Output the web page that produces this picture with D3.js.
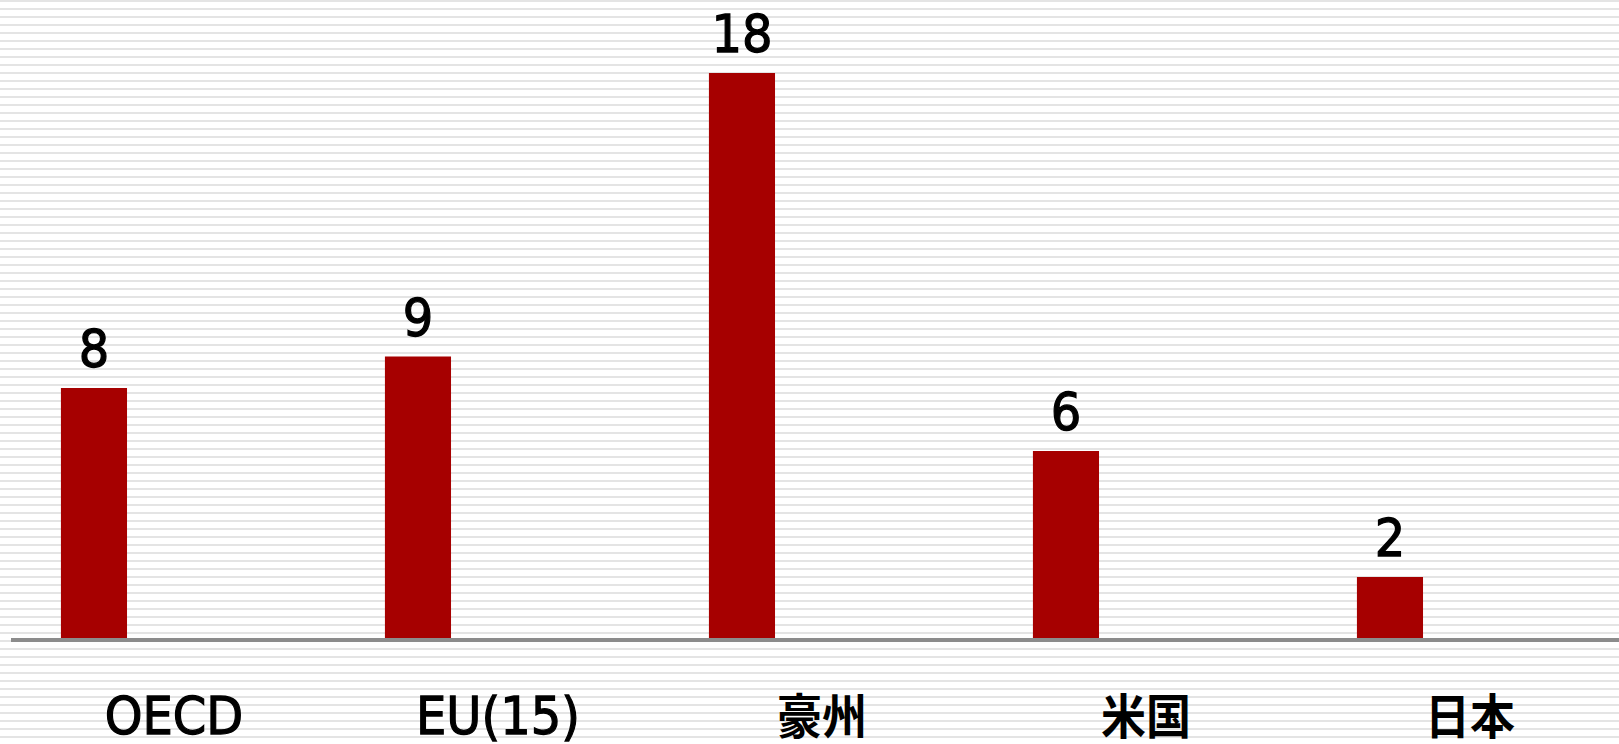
<!DOCTYPE html>
<html>
<head>
<meta charset="utf-8">
<script src="https://cdn.jsdelivr.net/npm/d3@7"></script>
<style>
  html, body { margin: 0; padding: 0; background: #fff; }
  svg { display: block; }
</style>
</head>
<body>
<svg id="chart" width="1619" height="744"></svg>
<script>
const categories = ["OECD", "EU(15)", "豪州", "米国", "日本"];
const values = [8, 9, 18, 6, 2];
const yDomain = [0, 20];

const W = 1619, H = 744;
const svg = d3.select("#chart");

// striped background
const defs = svg.append("defs");
const pat = defs.append("pattern")
  .attr("id", "stripes").attr("patternUnits", "userSpaceOnUse")
  .attr("width", 8).attr("height", 8);
pat.append("rect").attr("width", 8).attr("height", 8).attr("fill", "#ffffff");
pat.append("rect").attr("x", 0).attr("y", 0).attr("width", 8).attr("height", 2).attr("fill", "#e4e4e4");
svg.append("rect").attr("width", W).attr("height", H).attr("fill", "url(#stripes)");

const x = d3.scaleBand().domain(categories).range([12, 12 + 324 * 5]).padding(0);
const y = d3.scaleLinear().domain(yDomain).range([640, 10]);
const step = x.step();
const barOff = step * 0.151, barW = step * 0.204;

// bars
svg.append("g").selectAll("rect").data(values).join("rect")
  .attr("x", (d, i) => x(categories[i]) + barOff)
  .attr("width", barW)
  .attr("y", d => y(d))
  .attr("height", d => y(0) - y(d))
  .attr("fill", "#a60000");

// baseline
svg.append("line")
  .attr("x1", 11).attr("x2", W)
  .attr("y1", y(0)).attr("y2", y(0))
  .attr("stroke", "#8c8c8c").attr("stroke-width", 4);

const fontLatin = "'DejaVu Sans', Verdana, sans-serif";
const fontCJK = "'DejaVu Sans', 'Noto Sans CJK JP', sans-serif";
const isCJK = s => /[\u3000-\u9fff]/.test(s);

// value labels
svg.append("g").selectAll("text").data(values).join("text")
  .attr("transform", (d, i) => `translate(${x(categories[i]) + barOff + barW / 2},${y(d) - 21}) scale(1,1.09)`)
  .attr("text-anchor", "middle")
  .attr("font-family", fontLatin)
  .attr("font-size", 48)
  .attr("fill", "#000")
  .attr("stroke", "#000").attr("stroke-width", 1.2)
  .text(d => d);

// category labels
svg.append("g").selectAll("text").data(categories).join("text")
  .attr("transform", d => `translate(${x(d) + step / 2},734) scale(1,1.07)`)
  .attr("text-anchor", "middle")
  .attr("font-family", fontCJK)
  .attr("font-size", d => isCJK(d) ? 45 : 48)
  .attr("font-weight", d => isCJK(d) ? 700 : 400)
  .attr("fill", "#000")
  .attr("stroke", "#000").attr("stroke-width", d => isCJK(d) ? 0 : 1.2)
  .text(d => d);
</script>
</body>
</html>
